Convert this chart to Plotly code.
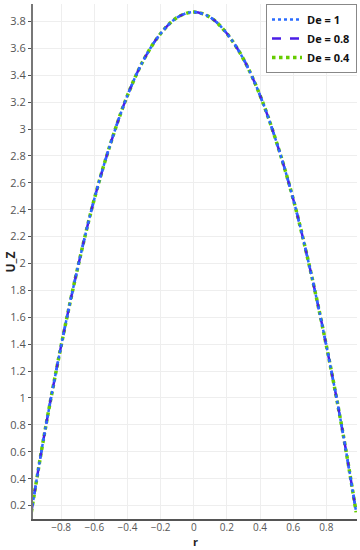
import plotly.graph_objects as go

r_vals = [-0.98, -0.9, -0.8, -0.7, -0.6, -0.5, -0.4, -0.3, -0.2, -0.1, 0.0,
          0.1, 0.2, 0.3, 0.4, 0.5, 0.6, 0.7, 0.8, 0.9, 0.98]
u_de1 = [0.15, 0.74, 1.39, 1.97, 2.48, 2.90, 3.25, 3.52, 3.71, 3.83, 3.87,
         3.83, 3.71, 3.52, 3.25, 2.90, 2.48, 1.97, 1.39, 0.74, 0.15]
u_de08 = [0.15, 0.74, 1.39, 1.97, 2.48, 2.90, 3.25, 3.52, 3.71, 3.83, 3.87,
          3.83, 3.71, 3.52, 3.25, 2.90, 2.48, 1.97, 1.39, 0.74, 0.15]
u_de04 = [0.15, 0.74, 1.39, 1.97, 2.48, 2.90, 3.25, 3.52, 3.71, 3.83, 3.87,
          3.83, 3.71, 3.52, 3.25, 2.90, 2.48, 1.97, 1.39, 0.74, 0.15]
series_names = ["De = 1", "De = 0.8", "De = 0.4"]
x_ticks = [-0.8, -0.6, -0.4, -0.2, 0, 0.2, 0.4, 0.6, 0.8]
y_ticks = [0.2, 0.4, 0.6, 0.8, 1, 1.2, 1.4, 1.6, 1.8, 2, 2.2, 2.4, 2.6, 2.8, 3, 3.2, 3.4, 3.6, 3.8]

fig = go.Figure()
fig.add_trace(go.Scatter(x=r_vals, y=u_de04, name=series_names[2], mode="lines",
                         line=dict(color="#66cc00", width=3.5, dash="dot", shape="spline"),
                         legendrank=3))
fig.add_trace(go.Scatter(x=r_vals, y=u_de08, name=series_names[1], mode="lines",
                         line=dict(color="#4b1ee6", width=2.5, dash="dash", shape="spline"),
                         legendrank=2))
fig.add_trace(go.Scatter(x=r_vals, y=u_de1, name=series_names[0], mode="lines",
                         line=dict(color="#2a6cff", width=2.5, dash="dot", shape="spline"),
                         legendrank=1))

fig.update_layout(
    width=360, height=550,
    margin=dict(l=33, r=3, t=4, b=31, autoexpand=False),
    paper_bgcolor="white", plot_bgcolor="white",
    font=dict(family="Open Sans", size=11, color="#555"),
    showlegend=True,
    legend=dict(x=1.0, y=1.0, xanchor="right", yanchor="top",
                bgcolor="white", bordercolor="#888", borderwidth=1,
                font=dict(size=11, color="#111", family="Open Sans", weight="bold"),
                tracegroupgap=0, itemwidth=30),
    xaxis=dict(range=[-0.97, 0.985], tickvals=x_ticks,
               showgrid=True, gridcolor="#eeeeee", zeroline=False,
               showline=True, linecolor="#555", linewidth=2,
               ticks="", ticklabelstandoff=-2, tickfont=dict(size=10)),
    yaxis=dict(range=[0.1, 3.93], tickvals=y_ticks,
               showgrid=True, gridcolor="#eeeeee", zeroline=False,
               showline=True, linecolor="#777", linewidth=2,
               ticks="outside", ticklen=3, tickcolor="#555"),
    annotations=[
        dict(text="<b>r</b>", x=0.5, xref="paper", y=-31 / 515, yref="paper",
             showarrow=False, font=dict(size=11, color="#222"), yanchor="bottom",
             borderpad=0),
        dict(text="<b>U_Z</b>", x=-0.068, xref="paper", xanchor="center", y=0.5, yref="paper",
             showarrow=False, textangle=-90, font=dict(size=12, color="#222")),
    ],
)
fig.write_html("out.html", config={"displayModeBar": False},
               post_script="document.body.style.margin='0';document.body.style.overflow='hidden';")
